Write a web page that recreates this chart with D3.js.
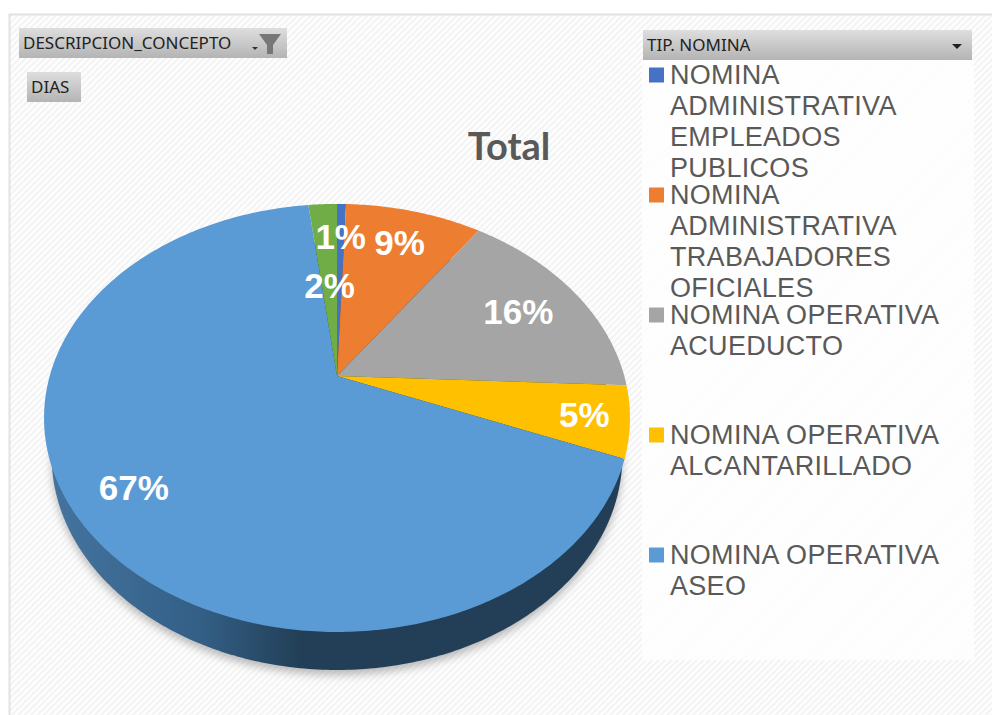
<!DOCTYPE html>
<html>
<head>
<meta charset="utf-8">
<script src="https://cdnjs.cloudflare.com/ajax/libs/d3/7.8.5/d3.min.js"></script>
<style>
  html, body { margin: 0; padding: 0; background: #fff; }
  svg { display: block; }
</style>
</head>
<body>
<div id="chart"></div>
<script>
var categories = ["NOMINA ADMINISTRATIVA EMPLEADOS PUBLICOS", "NOMINA ADMINISTRATIVA TRABAJADORES OFICIALES",
                  "NOMINA OPERATIVA ACUEDUCTO", "NOMINA OPERATIVA ALCANTARILLADO", "NOMINA OPERATIVA ASEO", "(otros)"];
var shares = [0.6, 9.1, 16.0, 5.4, 67.0, 1.9];
var sliceColors = ["#4472c4", "#ed7d31", "#a5a5a5", "#ffc000", "#5b9bd5", "#70ad47"];
var legendLines = [
  ["NOMINA", "ADMINISTRATIVA", "EMPLEADOS", "PUBLICOS"],
  ["NOMINA", "ADMINISTRATIVA", "TRABAJADORES", "OFICIALES"],
  ["NOMINA OPERATIVA", "ACUEDUCTO"],
  ["NOMINA OPERATIVA", "ALCANTARILLADO"],
  ["NOMINA OPERATIVA", "ASEO"]
];
// how far out each percent label sits, as a share of the radius
var labelRadius = [0.785, 0.785, 0.75, 0.85, 0.805, 0.48];

var width = 992,
    height = 715;

var svg = d3.select("#chart").append("svg")
  .attr("width", width)
  .attr("height", height);

var defs = svg.append("defs");

createDefs();
createFrame();
createPie();
createLegend();
createButtons();

function gradient(id, stops) {
  var g = defs.append("linearGradient").attr("id", id)
    .attr("x1", 0).attr("y1", 0).attr("x2", 0).attr("y2", 1);
  stops.forEach(function(s, i) {
    g.append("stop").attr("offset", i / (stops.length - 1)).attr("stop-color", s);
  });
}

function createDefs() {
  var hatch = defs.append("pattern").attr("id", "hatch")
    .attr("width", 4.5).attr("height", 4.5)
    .attr("patternUnits", "userSpaceOnUse")
    .attr("patternTransform", "rotate(45)");
  hatch.append("rect").attr("width", 4.5).attr("height", 4.5).attr("fill", "#fefefe");
  hatch.append("rect").attr("width", 2).attr("height", 4.5).attr("fill", "#f3f3f3");

  gradient("button", ["#dedede", "#c9c9c9", "#b4b4b4"]);

  var side = defs.append("linearGradient").attr("id", "side")
    .attr("gradientUnits", "userSpaceOnUse")
    .attr("x1", 50).attr("y1", 0).attr("x2", 300).attr("y2", 0);
  side.append("stop").attr("offset", 0).attr("stop-color", "#44749f");
  side.append("stop").attr("offset", 0.6).attr("stop-color", "#335f86");
  side.append("stop").attr("offset", 1).attr("stop-color", "#223f57");

  var blur = defs.append("filter").attr("id", "shadow")
    .attr("x", "-10%").attr("y", "-10%").attr("width", "120%").attr("height", "120%");
  blur.append("feGaussianBlur").attr("stdDeviation", 4);
}

function createFrame() {
  svg.append("rect")
    .attr("x", 9.5).attr("y", 14.5)
    .attr("width", width).attr("height", height)
    .attr("fill", "url(#hatch)")
    .attr("stroke", "#e2e2e2")
    .attr("stroke-width", 2);

  svg.append("rect")
    .attr("x", 642).attr("y", 60)
    .attr("width", 332).attr("height", 600)
    .attr("fill", "#fefefe")
    .attr("fill-opacity", 0.85);
}

function createPie() {
  var cx = 337,
      cy = 376,
      radiusX = 287.3,
      radiusY = 205.8,
      tilt = 0.196;

  // the pie is a flat circle seen in perspective, so its centre sits above the middle of the ellipse
  function project(angle, r) {
    var x = r * Math.sin(angle),
        y = -r * Math.cos(angle),
        w = 1 - tilt * y;
    return [cx + radiusX * x / w, cy + radiusY * y / w];
  }

  var line = d3.line();

  function rim(start, end) {
    var steps = Math.max(2, Math.ceil((end - start) * 80));
    return d3.range(steps + 1).map(function(i) {
      return project(start + (end - start) * i / steps, 1);
    });
  }

  var fullRim = rim(0, 2 * Math.PI);
  // underside of the disc: same outline, slightly smaller and lower
  var sideScale = 0.974;
  var sideRim = fullRim.map(function(p) {
    return [cx + (p[0] - cx) * sideScale, p[1] + 38];
  });

  svg.append("path")
    .attr("d", line(sideRim) + "Z")
    .attr("transform", "translate(0,5)")
    .attr("fill", "#8d8d8d")
    .attr("fill-opacity", 0.6)
    .attr("filter", "url(#shadow)");

  svg.append("path")
    .attr("d", line(sideRim) + "Z")
    .attr("fill", "url(#side)");

  var arcs = d3.pie().sort(null)(shares);

  svg.append("g").selectAll("path")
    .data(arcs)
    .enter()
      .append("path")
      .attr("d", function(d) {
        return line([project(0, 0)].concat(rim(d.startAngle, d.endAngle))) + "Z";
      })
      .attr("fill", function(d, i) { return sliceColors[i]; });

  svg.append("text")
    .attr("x", 509).attr("y", 160)
    .attr("text-anchor", "middle")
    .attr("font-family", "Lato, sans-serif")
    .attr("font-weight", 700)
    .attr("font-size", 38)
    .attr("fill", "#595959")
    .text("Total");

  var total = d3.sum(shares);
  svg.append("g").selectAll("text")
    .data(arcs)
    .enter()
      .append("text")
      .attr("transform", function(d, i) {
        var p = project((d.startAngle + d.endAngle) / 2, labelRadius[i]);
        return "translate(" + p[0] + "," + p[1] + ")";
      })
      .attr("text-anchor", "middle")
      .attr("dy", "0.36em")
      .attr("font-family", "'Liberation Sans', sans-serif")
      .attr("font-weight", 700)
      .attr("font-size", 35)
      .attr("fill", "#fff")
      .text(function(d) { return d3.format(".0%")(d.value / total); });
}

function createLegend() {
  var lineHeight = 31,
      entryStep = 120,
      firstLine = 75;

  var entries = svg.append("g").selectAll("g")
    .data(legendLines)
    .enter()
      .append("g")
      .attr("transform", function(d, i) { return "translate(649," + (firstLine + entryStep * i) + ")"; });

  entries.append("rect")
    .attr("y", -7.5)
    .attr("width", 15).attr("height", 15)
    .attr("fill", function(d, i) { return sliceColors[i]; });

  entries.selectAll("text")
    .data(function(d) { return d; })
    .enter()
      .append("text")
      .attr("x", 21)
      .attr("y", function(d, i) { return i * lineHeight; })
      .attr("dy", "0.33em")
      .attr("font-family", "'Liberation Sans', sans-serif")
      .attr("font-size", 27)
      .attr("letter-spacing", 0.3)
      .attr("fill", "#595959")
      .text(function(d) { return d; });
}

function createButtons() {
  addButton(19, 28, 268, 30, "DESCRIPCION_CONCEPTO");
  addButton(27, 72, 54, 30, "DIAS");
  addButton(643, 30, 329, 30, "TIP. NOMINA");

  // sort arrow and funnel on the first button
  svg.append("path").attr("d", "M252,47h6l-3,3Z").attr("fill", "#333");
  svg.append("path").attr("d", "M259,34h22l-8,11v9h-6v-9Z").attr("fill", "#777");
  // dropdown arrow on the legend header
  svg.append("path").attr("d", "M952,44h10l-5,5Z").attr("fill", "#222");

  function addButton(x, y, w, h, label) {
    svg.append("rect")
      .attr("x", x).attr("y", y)
      .attr("width", w).attr("height", h)
      .attr("fill", "url(#button)");
    svg.append("text")
      .attr("x", x + 4).attr("y", y + h / 2)
      .attr("dy", "0.36em")
      .attr("font-family", "'Noto Sans', sans-serif")
      .attr("font-size", 17)
      .attr("fill", "#222")
      .text(label);
  }
}
</script>
</body>
</html>
